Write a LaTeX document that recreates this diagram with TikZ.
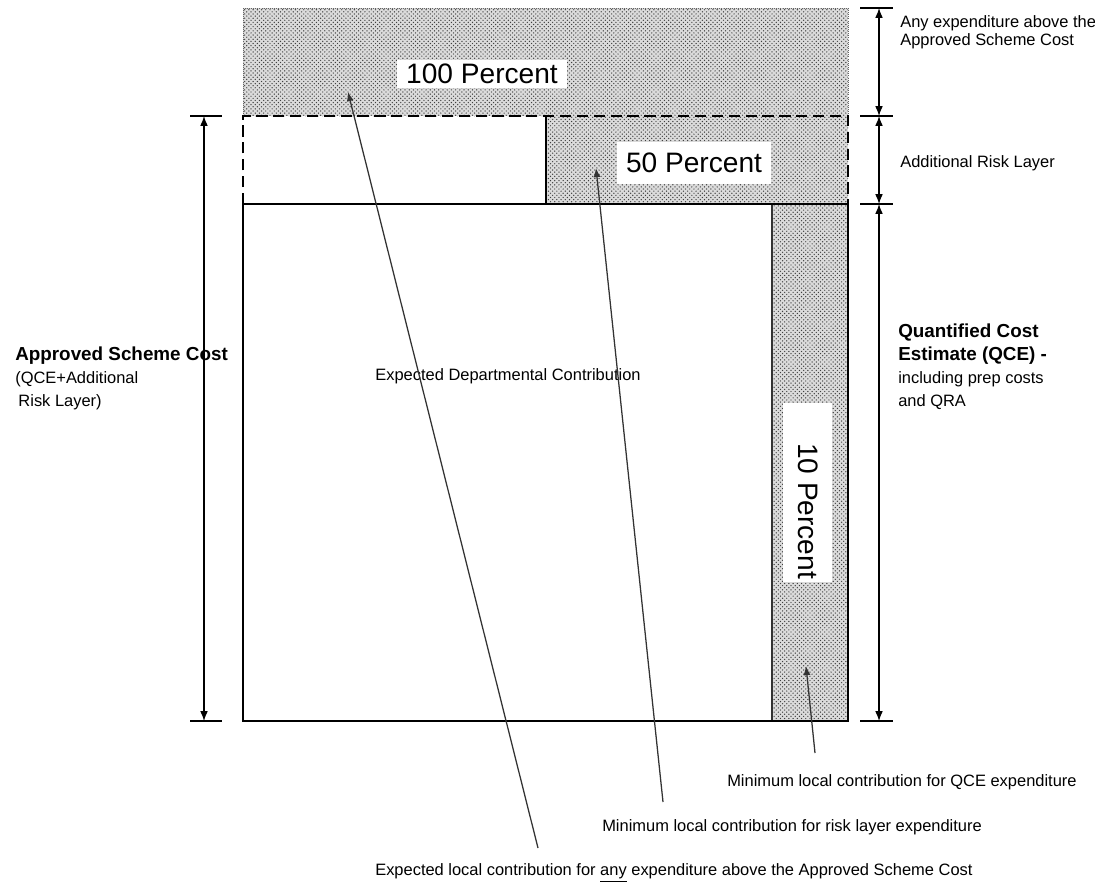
\documentclass[tikz,border=0pt]{standalone}
\usepackage{fontspec}
\setmainfont{Liberation Sans}
\usetikzlibrary{patterns,arrows.meta}

\tikzset{
  shaded/.style={preaction={fill=black!14}, pattern=crosshatch dots, pattern color=black!75},
  toprim/.style={line width=0.5pt, densely dotted, draw=black!60},
  riskline/.style={line width=1.9pt, dash pattern=on 8pt off 4pt},
  boxline/.style={line width=1.9pt},
  splitline/.style={line width=0.8pt},
  dimline/.style={line width=0.9pt, {Latex[length=7pt,width=5.5pt]}-{Latex[length=7pt,width=5.5pt]}},
  dimtick/.style={line width=1.8pt},
  pointer/.style={line width=0.9pt, draw=black!80, -{Latex[length=6.5pt,width=5pt]}},
  note/.style={font=\fontsize{11.7}{16.3}\selectfont, inner sep=0pt, align=left},
  bigpct/.style={font=\fontsize{20}{24}\selectfont, fill=white, inner xsep=0.22cm, inner ysep=0pt},
}
\newcommand{\headbf}{\bfseries\fontsize{13.4}{16.3}\selectfont}

\begin{document}
\begin{tikzpicture}[x=0.025cm, y=-0.025cm]
  \useasboundingbox (0,0) rectangle (1095,883);

  \fill[shaded] (243,8) rectangle (848,116);
  \fill[shaded] (546,116) rectangle (848,204);
  \fill[shaded] (772,204) rectangle (848,721);
  \fill[white] (783,403) rectangle (832,582);

  \draw[toprim] (243,116) -- (243,8) -- (848,8) -- (848,116);
  \draw[riskline] (243,204) -- (243,116) -- (848,116) -- (848,204);
  \draw[splitline] (546,116) -- (546,204);
  \draw[splitline, draw=black!80] (772,204) -- (772,721);
  \draw[boxline] (243,204) rectangle (848,721);

  \node[bigpct, minimum height=0.7cm] (hundred) at (482,74) {100 Percent};
  \node[bigpct, minimum height=1.07cm] (fifty) at (694,163) {50 Percent};
  \node[font=\fontsize{20}{24}\selectfont, inner sep=0pt, rotate=-90] (ten) at (808,511) {10 Percent};

  \node[note] (depart) at (508,376) {Expected Departmental Contribution};

  \coordinate (rtop) at (879,8);
  \coordinate (rcap) at (879,116);
  \coordinate (rqce) at (879,204);
  \coordinate (rbase) at (879,721);
  \coordinate (lcap) at (204,116);
  \coordinate (lbase) at (204,721);
  \draw[dimline] (rtop) -- (rcap);
  \draw[dimline] (rcap) -- (rqce);
  \draw[dimline] (rqce) -- (rbase);
  \draw[dimline] (lcap) -- (lbase);
  \foreach \y in {8,116,204,721}
    \draw[dimtick] (860,\y) -- (893,\y);
  \foreach \y in {116,721}
    \draw[dimtick] (190,\y) -- (222,\y);

  \node[note, anchor=north west] (abovecost) at (900,15) {Any expenditure above the\\[-3pt]Approved Scheme Cost};
  \node[note, anchor=west] (risklayer) at (900,163) {Additional Risk Layer};
  \node[note, anchor=north west] (qcetext) at (898,324) {{\headbf Quantified Cost}\\{\headbf Estimate (QCE) -}\\including prep costs\\and QRA};
  \node[note, anchor=north west] (schemetext) at (15,347) {{\headbf Approved Scheme Cost}\\(QCE+Additional\\\hspace*{0.08cm}Risk Layer)};

  \node[note, anchor=west] (qcelabel) at (727,782) {Minimum local contribution for QCE expenditure};
  \node[note, anchor=west] (risklabel) at (602,827) {Minimum local contribution for risk layer expenditure};
  \node[note, anchor=west] (anylabel) at (375,873) {Expected local contribution for \underline{any} expenditure above the Approved Scheme Cost};

  \coordinate (hundredtip) at (348,92);
  \coordinate (hundredtail) at (538,848);
  \coordinate (fiftytip) at (596,168);
  \coordinate (fiftytail) at (663,802);
  \coordinate (tentip) at (806,666);
  \coordinate (tentail) at (815,753);
  \draw[pointer] (hundredtail) -- (hundredtip);
  \draw[pointer] (fiftytail) -- (fiftytip);
  \draw[pointer] (tentail) -- (tentip);
\end{tikzpicture}
\end{document}
